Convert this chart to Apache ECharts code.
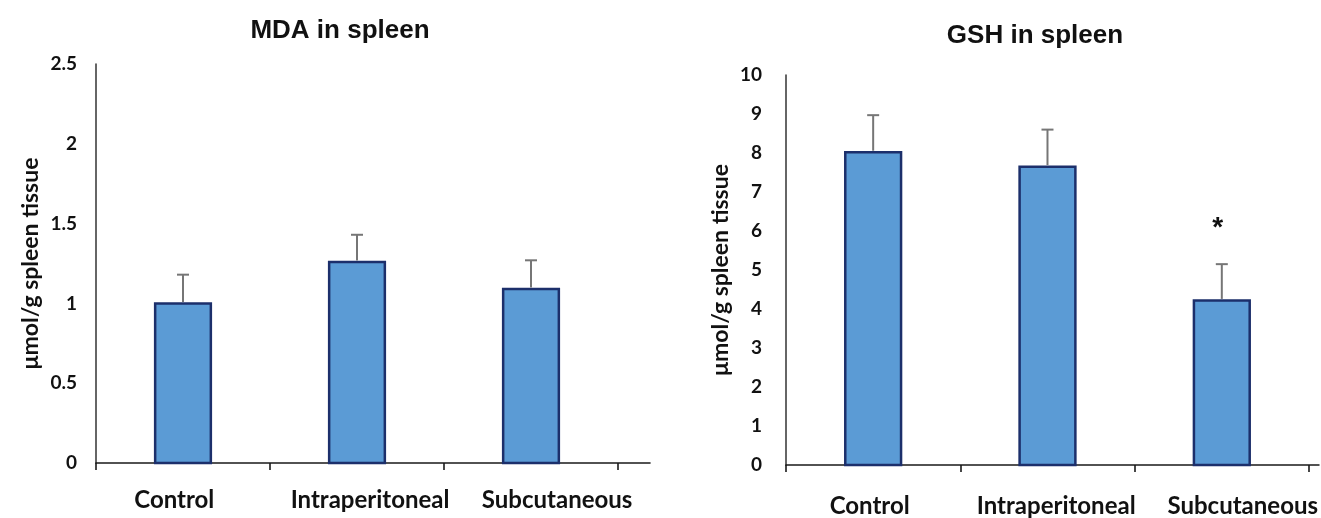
<!DOCTYPE html>
<html>
<head>
<meta charset="utf-8">
<script src="https://cdn.jsdelivr.net/npm/echarts@6/dist/echarts.min.js"></script>
<style>
  html, body { margin: 0; padding: 0; background: #fff; }
  #chart { width: 1321px; height: 518px; }
</style>
</head>
<body>
<div id="chart"></div>
<script>
// Groups shared by both panels
const groups = ['Control', 'Intraperitoneal', 'Subcutaneous'];

// Malondialdehyde (MDA), µmol/g spleen tissue: mean and upper SD
const mdaMean = [1.0, 1.26, 1.09];
const mdaSD = [0.18, 0.17, 0.18];
const mdaMarks = ['', '', ''];
const mdaTicks = [0, 0.5, 1, 1.5, 2, 2.5];

// Reduced glutathione (GSH), µmol/g spleen tissue: mean and upper SD
const gshMean = [8.02, 7.65, 4.22];
const gshSD = [0.95, 0.95, 0.93];
const gshMarks = ['', '', '*'];
const gshTicks = [0, 1, 2, 3, 4, 5, 6, 7, 8, 9, 10];

const FONT = 'Lato';
const TITLE_FONT = '"Liberation Sans", Arial';
const BAR_FILL = '#5b9bd5';
const BAR_EDGE = '#1c2f6b';
const ERR_COLOR = '#767676';
const BAR_FRAC = 0.32;   // bar width as a fraction of one group slot

function groupCenters() { return groups.map((g, i) => i + 0.5); }

function barSeries(axisIdx, means) {
  return {
    type: 'custom',
    xAxisIndex: axisIdx, yAxisIndex: axisIdx,
    data: means.map((v, i) => [i + 0.5, v]),
    renderItem: function (params, api) {
      const x = api.value(0), v = api.value(1);
      const top = api.coord([x, v]);
      const base = api.coord([x, 0]);
      const w = api.size([BAR_FRAC, 0])[0];
      return {
        type: 'rect',
        shape: { x: top[0] - w / 2, y: top[1], width: w, height: base[1] - top[1] },
        style: { fill: BAR_FILL, stroke: BAR_EDGE, lineWidth: 2.5 }
      };
    },
    z: 2
  };
}

function errorSeries(axisIdx, means, sds, marks) {
  return {
    type: 'custom',
    xAxisIndex: axisIdx, yAxisIndex: axisIdx,
    data: means.map((v, i) => [i + 0.5, v, v + sds[i], i]),
    renderItem: function (params, api) {
      const x = api.value(0);
      const lo = api.coord([x, api.value(1)]);
      const hi = api.coord([x, api.value(2)]);
      const mark = marks[api.value(3)];
      const children = [
        { type: 'line', shape: { x1: lo[0], y1: lo[1] - 1.5, x2: hi[0], y2: hi[1] },
          style: { stroke: ERR_COLOR, lineWidth: 2 } },
        { type: 'line', shape: { x1: hi[0] - 6, y1: hi[1], x2: hi[0] + 6, y2: hi[1] },
          style: { stroke: ERR_COLOR, lineWidth: 2 } }
      ];
      if (mark) {
        children.push({
          type: 'text',
          style: {
            text: mark, x: hi[0] - 4, y: hi[1] - 36,
            fill: '#111', font: 'bold 28px "Liberation Sans", Arial',
            align: 'center', verticalAlign: 'middle'
          }
        });
      }
      return { type: 'group', children: children };
    },
    z: 3
  };
}

// nudge: horizontal shift of each group name, in slot units
function xAxisFor(gridIdx, maxSlots, labelMargin, nudge) {
  return {
    type: 'value', gridIndex: gridIdx, min: 0, max: maxSlots,
    axisLine: { show: true, onZero: false, lineStyle: { color: '#1a1a1a', width: 1.6 } },
    axisTick: { show: true, customValues: [0, 1, 2, 3], length: 7, inside: false,
                lineStyle: { color: '#1a1a1a', width: 1.6 } },
    axisLabel: {
      customValues: groupCenters().map((c, i) => c + nudge[i]),
      formatter: v => groups[Math.floor(v)],
      fontFamily: FONT, fontWeight: 'bold', fontSize: 24, color: '#111', margin: labelMargin
    },
    splitLine: { show: false }
  };
}

function yAxisFor(gridIdx, ticks, margin) {
  return {
    type: 'value', gridIndex: gridIdx,
    min: ticks[0], max: ticks[ticks.length - 1], interval: ticks[1] - ticks[0],
    name: 'μmol/g spleen tissue', nameLocation: 'middle', nameRotate: 90, nameGap: 54,
    nameTextStyle: { fontFamily: FONT, fontWeight: 'bold', fontSize: 23, color: '#111' },
    axisLine: { show: true, lineStyle: { color: '#333', width: 1.5 } },
    axisTick: { show: false },
    axisLabel: { fontFamily: FONT, fontWeight: 'bold', fontSize: 19, color: '#111', margin: margin },
    splitLine: { show: false }
  };
}

const chart = echarts.init(document.getElementById('chart'), null, { renderer: 'canvas' });
chart.setOption({
  backgroundColor: '#fff',
  animation: false,
  title: [
    { text: 'MDA in spleen', left: 335, top: 13, textAlign: 'center',
      textStyle: { fontFamily: TITLE_FONT, fontWeight: 'bold', fontSize: 26, color: '#111' } },
    { text: 'GSH in spleen', left: 1030, top: 18, textAlign: 'center',
      textStyle: { fontFamily: TITLE_FONT, fontWeight: 'bold', fontSize: 26, color: '#111' } }
  ],
  grid: [
    { left: 96, top: 64, width: 554, height: 399 },
    { left: 786, top: 75, width: 535, height: 392 }
  ],
  xAxis: [
    xAxisFor(0, 554 / 174, 25, [-0.05, 0.075, 0.15]),
    xAxisFor(1, 535 / 175, 29, [-0.02, 0.05, 0.12])
  ],
  yAxis: [yAxisFor(0, mdaTicks, 19), yAxisFor(1, gshTicks, 24)],
  series: [
    barSeries(0, mdaMean), errorSeries(0, mdaMean, mdaSD, mdaMarks),
    barSeries(1, gshMean), errorSeries(1, gshMean, gshSD, gshMarks)
  ]
});
</script>
</body>
</html>
